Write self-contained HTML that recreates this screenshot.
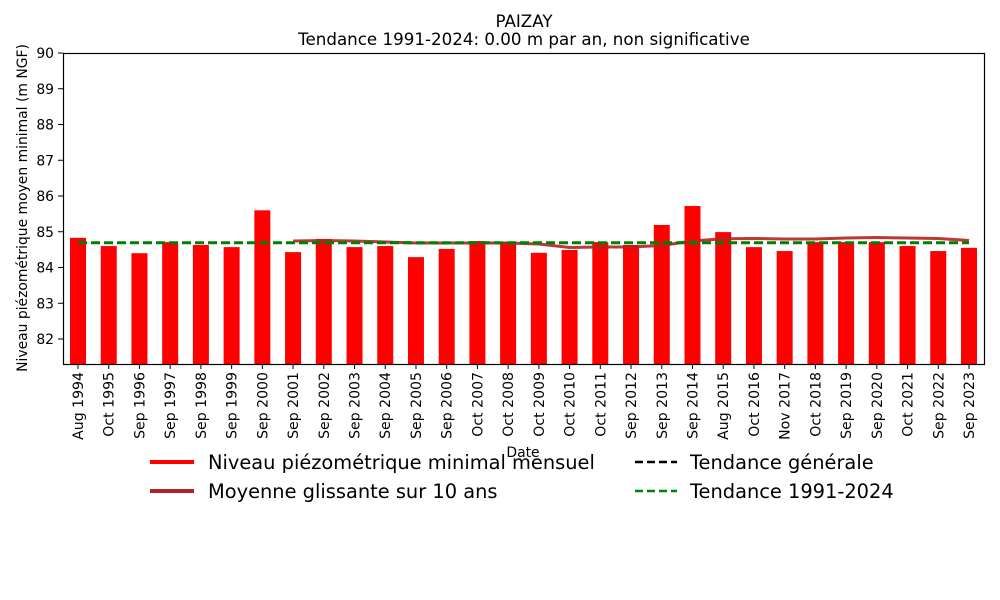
<!DOCTYPE html>
<html><head><meta charset="utf-8"><style>body{margin:0;background:#fff}svg{display:block;font-family:"DejaVu Sans",sans-serif}</style></head><body>
<svg width="1000" height="600" xmlns="http://www.w3.org/2000/svg">
<text x="524" y="27" font-size="16.7" text-anchor="middle">PAIZAY</text>
<text x="524" y="45" font-size="16.7" text-anchor="middle">Tendance 1991-2024: 0.00 m par an, non significative</text>
<g id="bars" fill="#ff0000"></g>
<polyline id="ma" fill="none" stroke="#b22222" stroke-width="3" opacity="0.9"/>
<line x1="78" y1="242.7" x2="969" y2="242.7" stroke="#000" stroke-width="2.5" stroke-dasharray="9,4"/>
<line x1="78" y1="242.7" x2="969" y2="242.7" stroke="#008000" stroke-width="3" stroke-dasharray="9,4"/>
<rect x="63.5" y="53.5" width="921" height="311" fill="none" stroke="#000" stroke-width="1.2"/>
<g id="yt" font-size="13.9"></g>
<g id="xt" font-size="14.1"></g>
<text transform="translate(27,208) rotate(-90)" font-size="13.9" text-anchor="middle">Niveau piézométrique moyen minimal (m NGF)</text>
<text x="523" y="457" font-size="13.9" text-anchor="middle">Date</text>
<g font-size="19.4">
<line x1="150" y1="462" x2="194" y2="462" stroke="#ff0000" stroke-width="4"/>
<text x="208" y="469">Niveau piézométrique minimal mensuel</text>
<line x1="150" y1="491" x2="194" y2="491" stroke="#b22222" stroke-width="4"/>
<text x="208" y="498">Moyenne glissante sur 10 ans</text>
<line x1="635" y1="462" x2="677" y2="462" stroke="#000" stroke-width="2.5" stroke-dasharray="8,4"/>
<text x="690" y="469">Tendance générale</text>
<line x1="635" y1="491" x2="677" y2="491" stroke="#008000" stroke-width="2.5" stroke-dasharray="8,4"/>
<text x="690" y="498">Tendance 1991-2024</text>
</g>
</svg>
<script>
const ns="http://www.w3.org/2000/svg";
const vals=[84.83,84.6,84.4,84.71,84.63,84.57,85.6,84.43,84.8,84.57,84.6,84.29,84.52,84.74,84.71,84.41,84.49,84.71,84.63,85.19,85.72,84.99,84.57,84.46,84.71,84.71,84.71,84.6,84.46,84.55];
const labs=["Aug 1994","Oct 1995","Sep 1996","Sep 1997","Sep 1998","Sep 1999","Sep 2000","Sep 2001","Sep 2002","Sep 2003","Sep 2004","Sep 2005","Sep 2006","Oct 2007","Oct 2008","Oct 2009","Oct 2010","Oct 2011","Sep 2012","Sep 2013","Sep 2014","Aug 2015","Oct 2016","Nov 2017","Oct 2018","Sep 2019","Sep 2020","Oct 2021","Sep 2022","Sep 2023"];
const Y=v=>53+(90-v)*35.75, X=i=>78+i*30.724;
const b=document.getElementById("bars"),xt=document.getElementById("xt"),yt=document.getElementById("yt");
vals.forEach((v,i)=>{let r=document.createElementNS(ns,"rect");r.setAttribute("x",X(i)-8);r.setAttribute("y",Y(v));r.setAttribute("width",16);r.setAttribute("height",364-Y(v));b.appendChild(r);
let l=document.createElementNS(ns,"line");l.setAttribute("x1",X(i));l.setAttribute("x2",X(i));l.setAttribute("y1",364);l.setAttribute("y2",369);l.setAttribute("stroke","#000");xt.appendChild(l);
let t=document.createElementNS(ns,"text");t.setAttribute("transform",`translate(${X(i)+5},372) rotate(-90)`);t.setAttribute("text-anchor","end");t.textContent=labs[i];xt.appendChild(t);});
for(let v=82;v<=90;v++){let y=Y(v);let l=document.createElementNS(ns,"line");l.setAttribute("x1",58);l.setAttribute("x2",63);l.setAttribute("y1",y);l.setAttribute("y2",y);l.setAttribute("stroke","#000");yt.appendChild(l);
let t=document.createElementNS(ns,"text");t.setAttribute("x",54);t.setAttribute("y",y+5);t.setAttribute("text-anchor","end");t.textContent=v;yt.appendChild(t);}
const ma={7:241,8:240.5,9:241,10:242,11:243,12:243,13:243,14:243,15:244,16:247.5,17:247,18:247,19:245.5,20:241,21:238.7,22:238.5,23:239,24:239,25:238,26:237.5,27:238,28:238.5,29:240.5};
document.getElementById("ma").setAttribute("points",Object.keys(ma).map(i=>X(+i)+","+ma[i]).join(" "));
</script>
</body></html>
